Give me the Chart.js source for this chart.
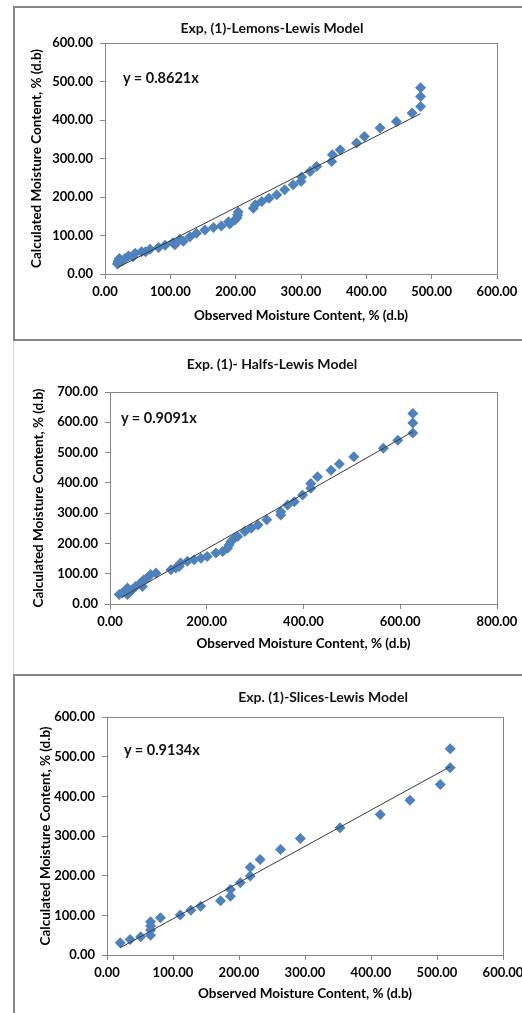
<!DOCTYPE html>
<html>
<head>
<meta charset="utf-8">
<script src="https://cdn.jsdelivr.net/npm/chart.js@4/dist/chart.umd.min.js"></script>
<style>
  html, body { margin: 0; padding: 0; background: #fff; overflow: hidden; width: 522px; height: 1013px; }
  .box { position: absolute; left: 13px; width: 560px; box-sizing: border-box; }
  .box canvas { position: absolute; left: 0; top: 0; }
  .ttl, .eq { position: absolute; font-family: Lato, "Open Sans", sans-serif; font-weight: bold; font-size: 14px; color: #111; white-space: nowrap; }
  .ttl { transform: translate(-50%, -50%); }
  .eq { transform: translateY(-50%); font-size: 14.5px; }
</style>
</head>
<body>

<div class="box" id="box1" style="top:6px;height:335px;border:2px solid #868686;border-right:none;"><canvas id="c1"></canvas></div>
<div class="box" id="box2" style="top:341px;height:333px;border-left:1px solid #d8d8d8;"><canvas id="c2"></canvas></div>
<div class="box" id="box3" style="top:674px;height:345px;border:2px solid #868686;border-right:none;"><canvas id="c3"></canvas></div>

<div class="ttl" style="left:272px;top:27px;">Exp, (1)-Lemons-Lewis Model</div>
<div class="ttl" style="left:272px;top:363px;">Exp. (1)- Halfs-Lewis Model</div>
<div class="ttl" style="left:323px;top:696px;">Exp. (1)-Slices-Lewis Model</div>

<div class="eq" style="left:123px;top:77px;">y = 0.8621x</div>
<div class="eq" style="left:121px;top:417px;">y = 0.9091x</div>
<div class="eq" style="left:124px;top:749px;">y = 0.9134x</div>

<script>
// observed vs calculated moisture content, % (d.b)
const lemonsObs  = [19, 20, 21, 22, 26, 31, 36, 43, 46, 56, 62, 69, 82, 92, 104, 107, 115, 120, 130, 140, 153, 166, 178, 189, 191, 199, 202, 203, 204, 227, 230, 240, 251, 263, 275, 288, 300, 301, 314, 324, 347, 348, 360, 385, 397, 421, 446, 470, 483, 483, 483];
const lemonsCalc = [26, 32, 36, 40, 34, 41, 47, 45, 54, 58, 58, 64, 69, 75, 81, 76, 90, 85, 97, 106, 114, 121, 125, 136, 130, 140, 146, 153, 161, 171, 180, 188, 197, 206, 219, 232, 240, 252, 266, 279, 292, 310, 323, 340, 357, 379, 396, 418, 435, 461, 484];

const halfsObs  = [19, 25, 36, 36, 46, 53, 63, 67, 70, 77, 84, 95, 126, 136, 143, 146, 160, 174, 188, 201, 219, 233, 243, 246, 250, 257, 264, 279, 292, 306, 324, 353, 353, 367, 381, 398, 415, 415, 429, 457, 474, 504, 565, 595, 626, 626, 626];
const halfsCalc = [31, 36, 53, 31, 47, 58, 69, 58, 80, 86, 97, 102, 113, 119, 124, 135, 141, 146, 151, 157, 168, 173, 184, 195, 206, 217, 223, 239, 250, 261, 278, 294, 305, 327, 338, 360, 382, 398, 420, 442, 462, 486, 514, 541, 565, 598, 629];

const slicesObs  = [20, 35, 51, 66, 66, 66, 66, 81, 111, 127, 142, 172, 187, 187, 202, 217, 217, 232, 263, 293, 353, 414, 459, 505, 520, 520];
const slicesCalc = [31, 39, 46, 50, 63, 73, 84, 94, 101, 113, 123, 137, 148, 165, 182, 199, 221, 241, 266, 294, 321, 354, 390, 430, 472, 520];

// fitted slopes (y = kx) and the x range the trend line covers
const slopes = [0.8621, 0.9091, 0.9134];
const trendFrom = [20, 25, 20];
const trendTo = [483, 626, 520];

// axis maxima and x tick steps
const xMax = [600, 800, 600];
const xStep = [100, 200, 100];
const yMax = [600, 700, 600];

const axisGrey = "#868686";
const markBlue = "#4f81bd";
const tickFont = { family: "Lato, 'Open Sans', sans-serif", weight: "bold", size: 13 };
const titleFont = { family: "Lato, 'Open Sans', sans-serif", weight: "bold", size: 13.5 };

// draws the full frame round the plot area
const frame = {
  id: "frame",
  afterDraw(chart) {
    const a = chart.chartArea, ctx = chart.ctx;
    ctx.save();
    ctx.strokeStyle = axisGrey;
    ctx.lineWidth = 1;
    ctx.strokeRect(Math.round(a.left) + 0.5, Math.round(a.top) + 0.5, Math.round(a.right - a.left), Math.round(a.bottom - a.top));
    ctx.restore();
  }
};

function makeChart(id, i, obs, calc, g) {
  const pts = obs.map((x, j) => ({ x: x, y: calc[j] }));
  const trend = [
    { x: trendFrom[i], y: slopes[i] * trendFrom[i] },
    { x: trendTo[i], y: slopes[i] * trendTo[i] }
  ];
  const cv = document.getElementById(id);
  cv.width = 560; cv.height = g.h;
  cv.style.width = "560px"; cv.style.height = g.h + "px";

  new Chart(cv, {
    type: "scatter",
    data: {
      datasets: [
        {
          data: pts,
          pointStyle: "rectRot",
          pointRadius: 5.5,
          backgroundColor: markBlue,
          borderColor: markBlue,
          borderWidth: 0,
          order: 2
        },
        {
          type: "line",
          data: trend,
          borderColor: "#3a3a3a",
          borderWidth: 1,
          pointRadius: 0,
          fill: false,
          order: 1
        }
      ]
    },
    options: {
      responsive: false,
      animation: false,
      events: [],
      layout: { padding: { left: 0, top: g.top, right: 560 - g.right, bottom: 0 } },
      plugins: { legend: { display: false }, title: { display: false }, tooltip: { enabled: false } },
      scales: {
        x: {
          type: "linear",
          min: 0, max: xMax[i],
          ticks: { stepSize: xStep[i], color: "#000", font: tickFont, padding: 5, maxRotation: 0,
                   callback: v => v.toFixed(2) },
          grid: { drawOnChartArea: false, color: axisGrey, tickLength: 5 },
          border: { color: axisGrey },
          title: { display: true, text: "Observed Moisture Content, % (d.b)", color: "#000", font: titleFont, padding: { top: 0, bottom: g.xt } },
          afterFit: s => { s.height = g.h - g.bottom; }
        },
        y: {
          min: 0, max: yMax[i],
          ticks: { stepSize: 100, color: "#000", font: tickFont, padding: 7,
                   callback: v => v.toFixed(2) },
          grid: { drawOnChartArea: false, color: axisGrey, tickLength: 5 },
          border: { color: axisGrey },
          title: { display: true, text: "Calculated Moisture Content, % (d.b)", color: "#000", font: titleFont, padding: { top: g.yt, bottom: 0 } },
          afterFit: s => { s.width = g.left; }
        }
      }
    },
    plugins: [frame]
  });
}

// plot area positions inside each canvas
makeChart("c1", 0, lemonsObs, lemonsCalc, { h: 331, top: 35, bottom: 266, left: 90, right: 482, xt: 15, yt: 14 });
makeChart("c2", 1, halfsObs, halfsCalc, { h: 333, top: 51, bottom: 263, left: 96, right: 483, xt: 22, yt: 17 });
makeChart("c3", 2, slicesObs, slicesCalc, { h: 341, top: 41, bottom: 279, left: 92, right: 488, xt: 15, yt: 23 });
</script>
</body>
</html>
